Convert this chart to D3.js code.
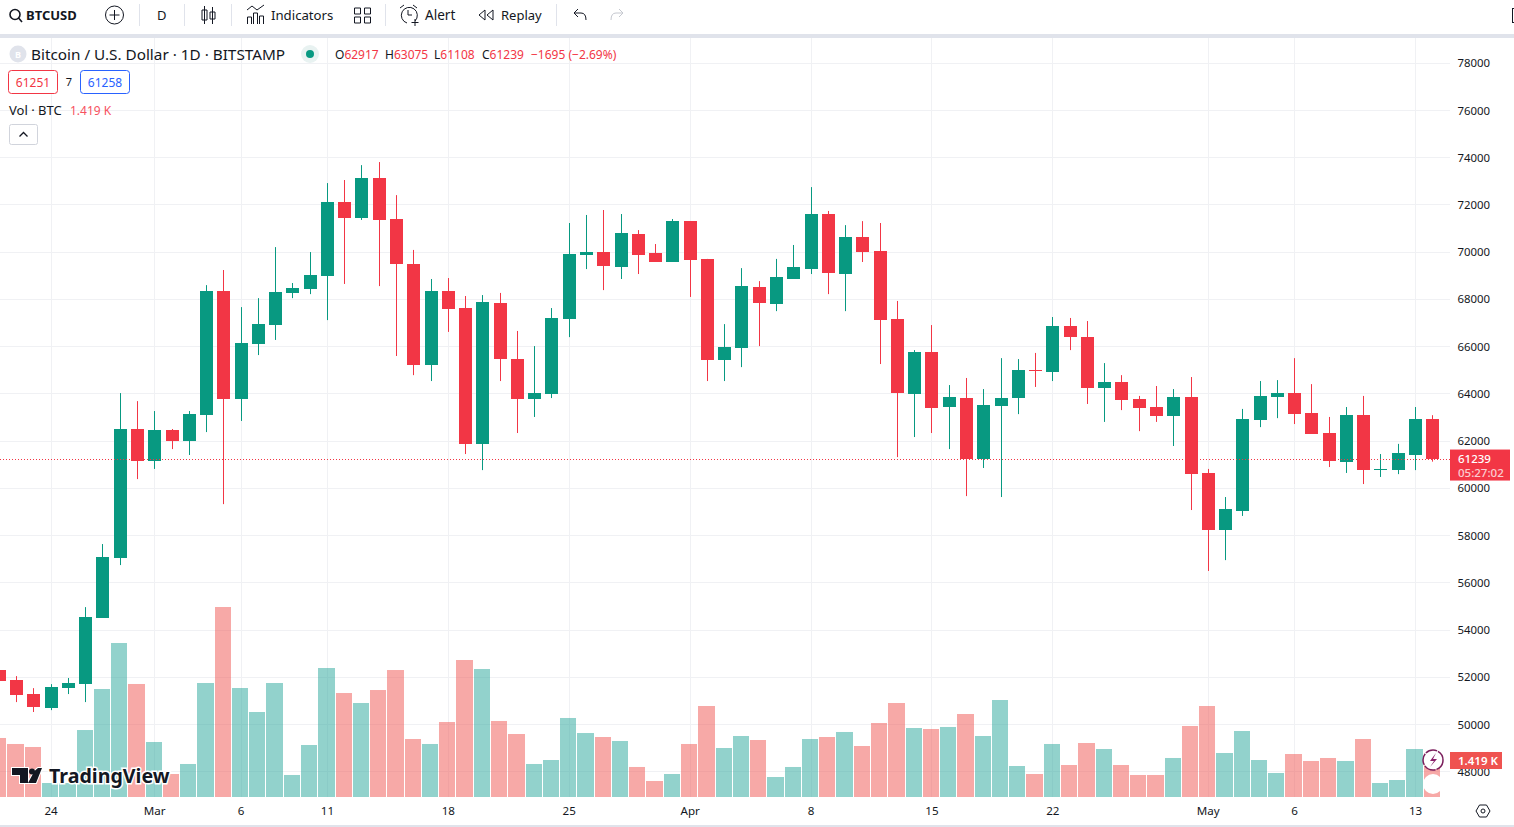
<!DOCTYPE html>
<html>
<head>
<meta charset="utf-8">
<title>BTCUSD</title>
<script src="https://cdn.jsdelivr.net/npm/d3@7"></script>
<style>
  html, body { margin: 0; padding: 0; background: #fff; overflow: hidden; }
  svg { display: block; }
  text { font-family: "Noto Sans", "Open Sans", sans-serif; fill: #131722; }
</style>
</head>
<body>
<svg id="viz" width="1514" height="827"></svg>
<script>
// daily candles, first one is 21 Feb 2024, last one is 14 May 2024
const firstDay = "2024-02-21";
const opens = [52290,51860,51270,50680,51520,51690,54490,57030,62490,61130,62450,61980,63080,68330,63760,66090,66890,68250,68420,68970,72100,71420,73110,71380,69470,65200,68330,67610,61860,67820,65450,63760,63970,67140,69850,69980,69350,70740,69940,69560,71290,69690,65410,65920,68500,67780,68840,69260,71590,69050,70620,70020,67140,63970,65750,63420,63800,61220,63460,63800,64990,64900,66850,66380,64220,64480,63760,63420,63040,63840,60630,58210,59020,62870,63840,64010,63170,62320,61090,63080,60750,60750,61390,62917];
const highs = [52360,52030,51520,51690,51950,54950,57620,64010,63670,63250,62490,63250,68580,69220,67650,68030,70190,68670,69980,72900,73030,73660,73790,72390,70070,68840,68880,68120,68160,68250,66640,66000,67610,71210,71550,71760,71590,70910,70320,71380,71290,69690,66930,69300,68750,69690,70280,72730,71720,71120,71290,71210,67910,65830,66890,64350,64650,64180,65490,65450,65710,67230,67190,67060,65280,64770,63890,64310,64180,64690,60800,59610,63340,64520,64560,65490,64390,63000,63420,63890,61430,61860,63420,63075];
const lows = [51740,50930,50510,50590,51270,50930,54490,56730,60370,60800,61640,61390,62360,59310,62830,65620,66260,68030,68200,67100,68630,71340,68540,65580,64770,64520,66600,61430,60750,64520,62320,63000,63800,66380,69260,68370,68840,69050,69560,69560,68080,64520,64520,65110,66000,67480,68840,69050,68200,67480,69560,65240,61300,62150,62320,61640,59650,60840,59610,63120,64270,64520,65830,63550,62790,63290,62400,62790,61770,59060,56480,56940,58810,62570,62950,62700,62280,60880,60630,60160,60460,60580,60750,61108];
const closes = [51820,51230,50720,51570,51740,54530,57070,62490,61130,62450,61980,63120,68330,63760,66130,66930,68290,68460,69010,72100,71420,73110,71340,69470,65200,68330,67570,61860,67860,65450,63760,64010,67190,69900,69980,69390,70790,69850,69560,71290,69640,65410,65960,68540,67820,68920,69350,71590,69090,70620,69980,67100,64010,65750,63380,63840,61220,63500,63800,64990,64940,66850,66380,64220,64480,63720,63380,63040,63840,60580,58210,59100,62910,63890,64010,63120,62280,61130,63080,60750,60800,61470,62910,61239];
const volumes = [2263,2033,1918,537,537,2569,4142,5906,4334,2109,882,1266,4372,7287,4180,3260,4372,844,1994,4947,3988,3605,4103,4870,2224,2033,2876,5254,4909,2915,2416,1266,1419,3030,2454,2301,2148,1151,614,882,2033,3490,1879,2339,2186,767,1151,2224,2301,2493,1956,2838,3605,2646,2608,2685,3183,2339,3720,1189,882,2033,1227,2071,1841,1227,844,844,1496,2723,3490,1687,2531,1419,920,1649,1381,1496,1381,2224,537,652,1841,1419];

const priceTicks = [48000,50000,52000,54000,56000,58000,60000,62000,64000,66000,68000,70000,72000,74000,76000,78000];
const timeTickDays = ["2024-02-24","2024-03-01","2024-03-06","2024-03-11","2024-03-18","2024-03-25","2024-04-01","2024-04-08","2024-04-15","2024-04-22","2024-05-01","2024-05-06","2024-05-13"];
const timeTickLabels = ["24","Mar","6","11","18","25","Apr","8","15","22","May","6","13"];

const lastPrice = 61239;
const countdown = "05:27:02";
const volumeLabel = "1.419 K";
const legendTitle = "Bitcoin / U.S. Dollar · 1D · BITSTAMP";
const legendOHLC = [["O","62917"],["H","63075"],["L","61108"],["C","61239"]];
const legendChange = "−1695 (−2.69%)";
const bidPrice = "61251", askPrice = "61258", spread = "7";

const UP = "#089981", DOWN = "#F23645";
const VOL_UP = "rgba(38,166,154,0.5)", VOL_DOWN = "rgba(239,83,80,0.5)";
const GRID = "#f0f1f4";

const svg = d3.select("#viz");
const width = 1514, height = 827;
const pane = { left: 0, right: 1450, top: 38, bottom: 797 };

const parseDay = d3.utcParse("%Y-%m-%d");
const days = opens.map((_, i) => d3.utcDay.offset(parseDay(firstDay), i));
const candles = days.map((day, i) => ({ day, o: opens[i], h: highs[i], l: lows[i], c: closes[i], v: volumes[i] }));

const x = d3.scaleUtc()
  .domain([days[0], days[days.length - 1]])
  .range([-1.2, 1432.3]);
const y = d3.scaleLinear()
  .domain([48000, 78000])
  .range([771.3, 62.6]);
const yVol = d3.scaleLinear()
  .domain([0, d3.max(volumes)])
  .range([pane.bottom, 607]);

// grid
const grid = svg.append("g").attr("id", "grid");
grid.selectAll("line.h").data(priceTicks).join("line")
  .attr("class", "h")
  .attr("x1", pane.left).attr("x2", pane.right)
  .attr("y1", d => Math.round(y(d)) + 0.5).attr("y2", d => Math.round(y(d)) + 0.5)
  .attr("stroke", GRID);
const tickDates = timeTickDays.map(parseDay);
grid.selectAll("line.v").data(tickDates).join("line")
  .attr("class", "v")
  .attr("y1", pane.top).attr("y2", pane.bottom)
  .attr("x1", d => Math.round(x(d)) + 0.5).attr("x2", d => Math.round(x(d)) + 0.5)
  .attr("stroke", GRID);

// volume bars, 1px gap to the next day's bar
const barLeft = day => Math.round(x(day) - 8.64);
svg.append("g").attr("id", "volume")
  .selectAll("rect").data(candles).join("rect")
  .attr("x", d => barLeft(d.day))
  .attr("width", d => barLeft(d3.utcDay.offset(d.day, 1)) - 1 - barLeft(d.day))
  .attr("y", d => yVol(d.v))
  .attr("height", d => pane.bottom - yVol(d.v))
  .attr("fill", d => d.c < d.o ? VOL_DOWN : VOL_UP);

// candles
const candleG = svg.append("g").attr("id", "candles")
  .selectAll("g").data(candles).join("g")
  .attr("fill", d => d.c < d.o ? DOWN : UP);
candleG.append("rect")
  .attr("x", d => Math.round(x(d.day)))
  .attr("width", 1)
  .attr("y", d => y(d.h))
  .attr("height", d => y(d.l) - y(d.h));
candleG.append("rect")
  .attr("x", d => Math.round(x(d.day)) - 6)
  .attr("width", 13)
  .attr("y", d => Math.round(y(Math.max(d.o, d.c))))
  .attr("height", d => Math.max(1, Math.round(y(Math.min(d.o, d.c))) - Math.round(y(Math.max(d.o, d.c)))));

// last price line
svg.append("line")
  .attr("x1", pane.left).attr("x2", pane.right)
  .attr("y1", Math.round(y(lastPrice)) + 0.5).attr("y2", Math.round(y(lastPrice)) + 0.5)
  .attr("stroke", DOWN).attr("stroke-dasharray", "1,2");

// axes
const yAxis = d3.axisRight(y).tickValues(priceTicks).tickSize(0).tickFormat(d3.format("d"));
const yAxisG = svg.append("g").attr("transform", "translate(1490,0.5)").call(yAxis);
yAxisG.select(".domain").remove();
yAxisG.selectAll("text").attr("x", 0).attr("text-anchor", "end")
  .style("font-size", "11.4px").style("fill", "#131722");

const xAxis = d3.axisBottom(x).tickValues(tickDates).tickSize(0)
  .tickFormat((d, i) => timeTickLabels[i]);
const xAxisG = svg.append("g").attr("transform", `translate(0,${pane.bottom})`).call(xAxis);
xAxisG.select(".domain").remove();
xAxisG.selectAll("text").attr("y", 10).attr("dy", "0.71em")
  .style("font-size", "11.6px").style("fill", "#131722");

// price labels on the right scale
const priceTag = svg.append("g");
priceTag.append("rect").attr("x", 1450).attr("y", y(lastPrice) - 9).attr("width", 60).attr("height", 31).attr("fill", DOWN);
priceTag.append("text").attr("x", 1458).attr("y", y(lastPrice) + 4.5).attr("font-size", 11.5).attr("font-weight", 500).style("fill", "#fff").text(lastPrice);
priceTag.append("text").attr("x", 1458).attr("y", y(lastPrice) + 18).attr("font-size", 11.5).attr("font-weight", 500).style("fill", "#fff").style("opacity", 0.75).text(countdown);
const volTag = svg.append("g");
volTag.append("rect").attr("x", 1450).attr("y", yVol(1419) - 8).attr("width", 52).attr("height", 17).attr("fill", "#ef5350");
volTag.append("text").attr("x", 1458).attr("y", yVol(1419) + 4.5).attr("font-size", 11.5).attr("font-weight", 600).style("fill", "#fff").text(volumeLabel);

// bubbles over the last volume bar
svg.append("circle").attr("cx", 1433).attr("cy", 784).attr("r", 10).attr("fill", "#fff");
svg.append("circle").attr("cx", 1433).attr("cy", 760).attr("r", 10).attr("fill", "#fff")
  .attr("stroke", "#7b1e5c").attr("stroke-width", 1.5).attr("stroke-dasharray", "12,1");
svg.append("path").attr("d", "M1436 753 L1430 761 L1434 761 L1430 767 L1437 759 L1433 759 Z").attr("fill", "#8a1f6a");

// settings hexagon
svg.append("path").attr("d", "M1476 811 L1479.5 805 L1486.5 805 L1490 811 L1486.5 817 L1479.5 817 Z").attr("fill", "none").attr("stroke", "#131722");
svg.append("circle").attr("cx", 1483).attr("cy", 811).attr("r", 2).attr("fill", "none").attr("stroke", "#131722");

// bottom border and toolbar
svg.append("rect").attr("x", 0).attr("y", 825).attr("width", width).attr("height", 2).attr("fill", "#e0e3eb");
svg.append("rect").attr("x", 0).attr("y", 34).attr("width", width).attr("height", 4).attr("fill", "#e0e3eb");
const bar = svg.append("g").attr("id", "toolbar");
const lineIcon = d => bar.append("path").attr("d", d).attr("fill", "none").attr("stroke", "#131722");
[139, 184, 231, 385, 556].forEach(sx =>
  bar.append("line").attr("x1", sx + 0.5).attr("x2", sx + 0.5).attr("y1", 4).attr("y2", 26).attr("stroke", "#e0e3eb"));
const barText = (tx, s, opts = {}) => bar.append("text").attr("x", tx).attr("y", 20)
  .attr("font-size", opts.size || 13).attr("font-weight", opts.weight || 400).text(s);

lineIcon("M15 14.5 m-5 0 a5 5 0 1 0 10 0 a5 5 0 1 0 -10 0 M19 18.5 L22 22").attr("stroke-width", 1.6);
barText(26, "BTCUSD", { weight: 700, size: 13 });
bar.append("circle").attr("cx", 114.5).attr("cy", 15).attr("r", 9).attr("fill", "none").attr("stroke", "#131722");
lineIcon("M109.5 15 H119.5 M114.5 10 V20");
barText(157, "D");
lineIcon("M204.5 6 V24 M212.5 7 V24 M202 10 H207 V20 H202 Z M210 12 H215 V19 H210 Z");
lineIcon("M247.5 24 V17 H251.5 V24 M253.5 24 V13 H257.5 V24 M259.5 24 V16 H263.5 V24 M247 10 L252 6 L257 10 L264 5");
barText(271, "Indicators", { size: 13.2 });
lineIcon("M354.5 8 H360.5 V14 H354.5 Z M364.5 8 H370.5 V14 H364.5 Z M354.5 17 H360.5 V23 H354.5 Z M364.5 17 H370.5 V23 H364.5 Z");
lineIcon("M415 21 A8 8 0 1 0 407 23 M408 10 V15 H412 M400 8 L404 5 M413 5 L417 8 M415 19 V26 M411.5 22.5 H418.5");
barText(425, "Alert", { size: 13.6 });
lineIcon("M485 10 L479 15 L485 20 Z M493 10 L487 15 L493 20 Z");
barText(501, "Replay");
lineIcon("M574 13 L578 9 M574 13 L578 17 M574 13 H581 Q586 13 586 20");
lineIcon("M623 13 L619 9 M623 13 L619 17 M623 13 H616 Q611 13 611 20").attr("stroke", "#c5c8cf");
bar.append("rect").attr("x", 1512.5).attr("y", 8.5).attr("width", 4).attr("height", 14).attr("fill", "none").attr("stroke", "#131722");

// legend
const legend = svg.append("g").attr("id", "legend");
legend.append("circle").attr("cx", 18).attr("cy", 54).attr("r", 8.5).attr("fill", "#e0e3eb");
legend.append("text").attr("x", 18).attr("y", 57.5).attr("text-anchor", "middle").attr("font-size", 9).attr("font-weight", 700).style("fill", "#fff").text("B");
legend.append("text").attr("x", 31).attr("y", 60).attr("font-size", 15.3).text(legendTitle);
legend.append("circle").attr("cx", 310).attr("cy", 54).attr("r", 9).attr("fill", "#e8f2f1");
legend.append("circle").attr("cx", 310).attr("cy", 54).attr("r", 4).attr("fill", UP);

const ohlcX = [335, 385, 434, 482];
legendOHLC.forEach(([k, v], i) => {
  const t = legend.append("text").attr("x", ohlcX[i]).attr("y", 59).attr("font-size", 12);
  t.append("tspan").style("fill", "#131722").text(k);
  t.append("tspan").style("fill", DOWN).text(v);
});
legend.append("text").attr("x", 531).attr("y", 59).attr("font-size", 12).style("fill", DOWN).text(legendChange);

legend.append("rect").attr("x", 8.5).attr("y", 70.5).attr("width", 49).attr("height", 23).attr("rx", 3).attr("fill", "#fff").attr("stroke", DOWN);
legend.append("text").attr("x", 33).attr("y", 87).attr("text-anchor", "middle").attr("font-size", 12).style("fill", DOWN).text(bidPrice);
legend.append("text").attr("x", 69).attr("y", 86).attr("text-anchor", "middle").attr("font-size", 11).text(spread);
legend.append("rect").attr("x", 80.5).attr("y", 70.5).attr("width", 49).attr("height", 23).attr("rx", 3).attr("fill", "#fff").attr("stroke", "#2962FF");
legend.append("text").attr("x", 105).attr("y", 87).attr("text-anchor", "middle").attr("font-size", 12).style("fill", "#2962FF").text(askPrice);

legend.append("text").attr("x", 9).attr("y", 115).attr("font-size", 13).text("Vol · BTC");
legend.append("text").attr("x", 70).attr("y", 115).attr("font-size", 12).style("fill", "#f7525f").text(volumeLabel);
legend.append("rect").attr("x", 9.5).attr("y", 124.5).attr("width", 28).attr("height", 20).attr("rx", 2).attr("fill", "#fff").attr("stroke", "#d1d4dc");
legend.append("path").attr("d", "M19.5 136.5 L23.5 132.5 L27.5 136.5").attr("fill", "none").attr("stroke", "#131722").attr("stroke-width", 1.3);

// watermark
const mark = svg.append("g").attr("id", "watermark");
mark.append("path")
  .attr("d", "M12 768 H28 V783 H20 V775 H12 Z M38 768 H42 L36 783 H28 L34.5 771 Z")
  .attr("fill", "#131722").attr("stroke", "#fff").attr("stroke-width", 2).attr("paint-order", "stroke");
mark.append("circle").attr("cx", 32).attr("cy", 771.5).attr("r", 3).attr("fill", "#131722");
mark.append("text").attr("x", 49).attr("y", 783).attr("font-size", 19.6).attr("font-weight", 700)
  .attr("stroke", "#fff").attr("stroke-width", 3).attr("paint-order", "stroke").style("fill", "#131722")
  .text("TradingView");
</script>
</body>
</html>
